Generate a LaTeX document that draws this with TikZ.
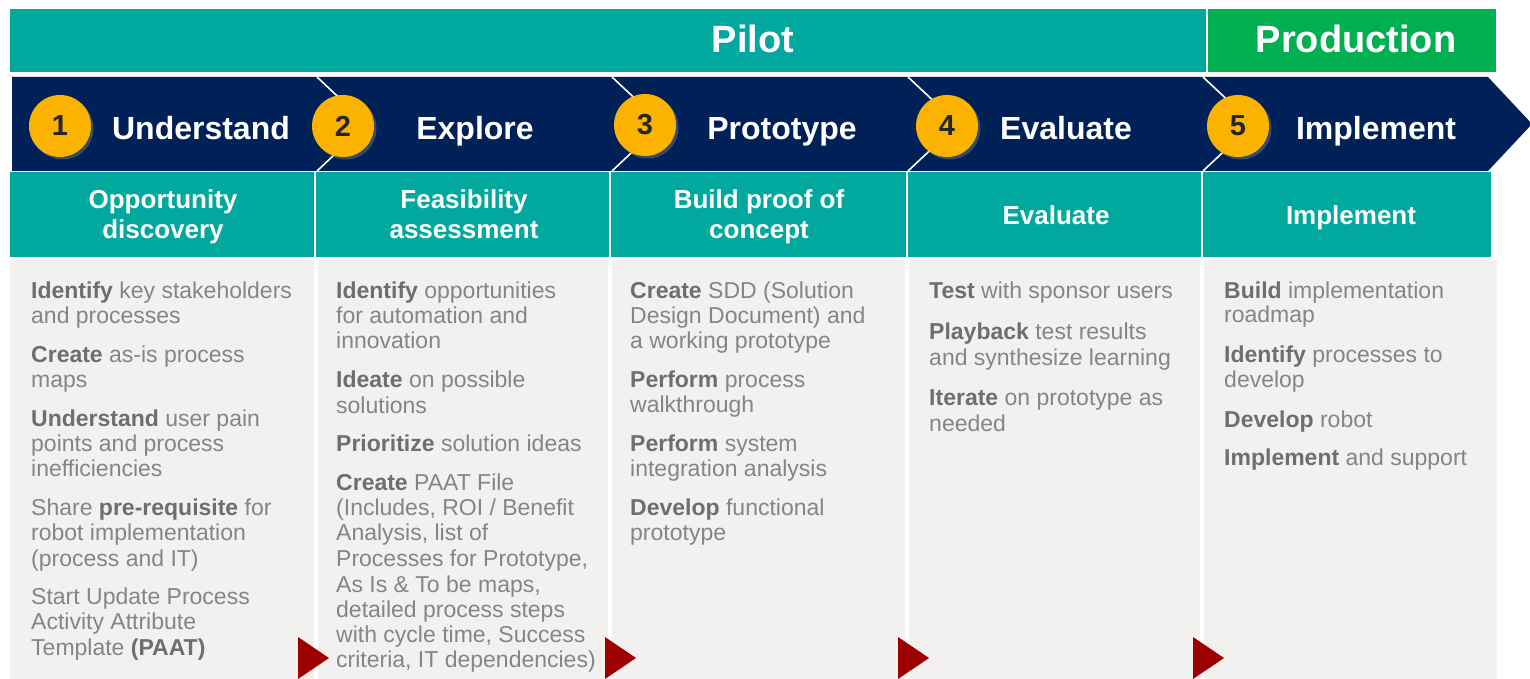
\documentclass[tikz,border=0pt]{standalone}
\usepackage{fontspec}
\setmainfont{Liberation Sans}
\usetikzlibrary{shadows}
\definecolor{tealc}{HTML}{00A89D}
\definecolor{navyc}{HTML}{002157}
\definecolor{greenc}{HTML}{00B050}
\definecolor{amberc}{HTML}{FBB300}
\definecolor{greyc}{HTML}{F2F1F0}
\definecolor{txtc}{HTML}{858585}
\definecolor{boldc}{HTML}{6E6E6E}
\definecolor{redc}{HTML}{9C0000}
\newcommand\bb[1]{{\color{boldc}\bfseries #1}}
\begin{document}
\begin{tikzpicture}[x=1pt,y=-1pt,
  band/.style={fill=tealc,draw=none},
  bandtxt/.style={text=white,font=\bfseries\fontsize{38}{40}\selectfont,inner sep=0,anchor=base},
  headtxt/.style={text=white,font=\bfseries\fontsize{32}{34}\selectfont,inner sep=0,anchor=base},
  subtxt/.style={text=white,font=\bfseries\fontsize{26}{30}\selectfont,inner sep=0,align=center},
  body/.style={text=txtc,font=\fontsize{23}{25}\selectfont,inner sep=0,anchor=base west},
  numcirc/.style={circle,fill=amberc,minimum size=62pt,inner sep=0,text=black!85,
    font=\bfseries\fontsize{29}{31}\selectfont,
    drop shadow={opacity=0.45,shadow xshift=2.5pt,shadow yshift=-2.5pt}},
  chev/.style={draw=white,line width=1.6pt},
  tri/.style={fill=redc,draw=none}]
\useasboundingbox (0,0) rectangle (1530,679);
\fill[white] (0,0) rectangle (1530,679);
% top bands
\fill[tealc] (10,9) rectangle (1206,72);
\fill[greenc] (1208,9) rectangle (1496,72);
\node[bandtxt] (pilot) at (753,53) {Pilot};
\node[bandtxt] (prod) at (1356,53) {Production};
% navy arrow band
\fill[navyc] (12,77) -- (1488,77) -- (1532,124) -- (1488,171) -- (12,171) -- cycle;
\foreach \xb in {317,612,908,1203}
  \draw[chev] (\xb,77) -- (\xb+50,124) -- (\xb,171);
% teal row
\foreach \a/\b in {10/314,316/609,611/906,908/1201,1203/1491}
  \fill[tealc] (\a,172) rectangle (\b,257);
% grey boxes
\foreach \a/\b in {10/314,318/608,612/905,909/1200,1204/1497}
  \fill[greyc] (\a,260) rectangle (\b,679);
% headings
\node[headtxt] (h1) at (201,140) {Understand};
\node[headtxt] (h2) at (475,140) {Explore};
\node[headtxt] (h3) at (782,140) {Prototype};
\node[headtxt] (h4) at (1066,140) {Evaluate};
\node[headtxt] (h5) at (1376,140) {Implement};
% sub headings
\node[subtxt,anchor=north] (s1) at (163,189) {Opportunity\\discovery};
\node[subtxt,anchor=north] (s2) at (464,189) {Feasibility\\assessment};
\node[subtxt,anchor=north] (s3) at (759,189) {Build proof of\\concept};
\node[subtxt,anchor=base] (s4) at (1056,224) {Evaluate};
\node[subtxt,anchor=base] (s5) at (1351,224) {Implement};
% circles
\node[numcirc] (n1) at (60,126) {1};
\node[numcirc] (n2) at (343,126) {2};
\node[numcirc] (n3) at (645,125) {3};
\node[numcirc] (n4) at (947,126) {4};
\node[numcirc] (n5) at (1238,126) {5};
% column 1
\foreach \y/\t [count=\i] in {
  298/{\bb{Identify} key stakeholders},
  323/{and processes},
  362/{\bb{Create} as-is process},
  387/{maps},
  426/{\bb{Understand} user pain},
  451/{points and process},
  476/{inefficiencies},
  515/{Share \bb{pre-requisite} for},
  540/{robot implementation},
  566/{(process and IT)},
  604/{Start Update Process},
  629/{Activity Attribute},
  655/{Template \bb{(PAAT)}}}
  \node[body] (a\i) at (31,\y) {\t};
% column 2
\foreach \y/\t [count=\i] in {
  298/{\bb{Identify} opportunities},
  323/{for automation and},
  348/{innovation},
  387/{\bb{Ideate} on possible},
  413/{solutions},
  451/{\bb{Prioritize} solution ideas},
  490/{\bb{Create} PAAT File},
  515/{(Includes, ROI / Benefit},
  540/{Analysis, list of},
  566/{Processes for Prototype,},
  592/{As Is \& To be maps,},
  617/{detailed process steps},
  642/{with cycle time, Success},
  667/{criteria, IT dependencies)}}
  \node[body] (b\i) at (336,\y) {\t};
% column 3
\foreach \y/\t [count=\i] in {
  298/{\bb{Create} SDD (Solution},
  323/{Design Document) and},
  348/{a working prototype},
  387/{\bb{Perform} process},
  412/{walkthrough},
  451/{\bb{Perform} system},
  476/{integration analysis},
  515/{\bb{Develop} functional},
  540/{prototype}}
  \node[body] (c\i) at (630,\y) {\t};
% column 4
\foreach \y/\t [count=\i] in {
  298/{\bb{Test} with sponsor users},
  339/{\bb{Playback} test results},
  365/{and synthesize learning},
  405/{\bb{Iterate} on prototype as},
  431/{needed}}
  \node[body] (d\i) at (929,\y) {\t};
% column 5
\foreach \y/\t [count=\i] in {
  298/{\bb{Build} implementation},
  322/{roadmap},
  362/{\bb{Identify} processes to},
  387/{develop},
  427/{\bb{Develop} robot},
  465/{\bb{Implement} and support}}
  \node[body] (e\i) at (1224,\y) {\t};
% red triangles
\foreach \xt in {298,605,898,1193}
  \fill[tri] (\xt,637) -- (\xt+31,658) -- (\xt,679) -- cycle;
\end{tikzpicture}
\end{document}
